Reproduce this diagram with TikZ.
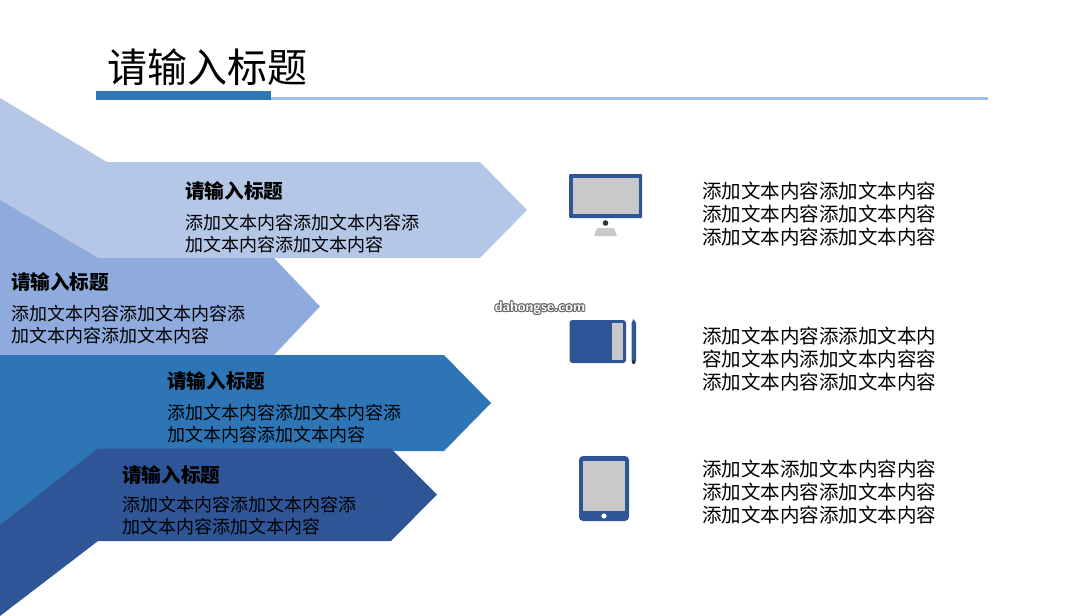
\documentclass[tikz,border=0pt]{standalone}
\usepackage{fontspec}
\setmainfont{Noto Sans CJK SC}
\newfontfamily\cjk{Noto Sans CJK SC}
\definecolor{cA}{HTML}{B4C7E7}
\definecolor{cB}{HTML}{8FAADC}
\definecolor{cC}{HTML}{2E75B6}
\definecolor{cD}{HTML}{2F5597}
\definecolor{cL}{HTML}{9DC3E6}
\definecolor{cG}{HTML}{C9C9C9}
\definecolor{cK}{HTML}{333333}
\tikzset{
  x=1pt,y=-1pt,
  head/.style={anchor=north west,inner sep=0pt,font=\fontsize{19.6pt}{23pt}\selectfont\bfseries,text=black},
  body/.style={anchor=north west,inner sep=0pt,align=left,font=\fontsize{18pt}{22pt}\selectfont,text=black},
  side/.style={anchor=north west,inner sep=0pt,align=left,font=\fontsize{19.5pt}{23.3pt}\selectfont,text=black},
  wmark/.style={inner sep=0pt,font=\sffamily\bfseries\fontsize{14pt}{15pt}\selectfont},
}
\begin{document}
\begin{tikzpicture}
\useasboundingbox (0,0) rectangle (1080,616);
\fill[white] (0,0) rectangle (1080,616);
% title rule
\fill[cL] (271,97) rectangle (988,99.5);
\fill[cC] (96,91) rectangle (271,100);
\node[anchor=west,inner sep=0pt,font=\fontsize{40pt}{44pt}\selectfont] (title) at (107,67.7) {请输入标题};
% chevrons
\fill[cA] (0,98) -- (107,162) -- (480,162) -- (527,210) -- (480,258) -- (0,258) -- cycle;
\fill[cB] (0,200) -- (98,258) -- (274,258) -- (320,306.5) -- (274,355) -- (0,355) -- cycle;
\fill[cC] (0,355) -- (444,355) -- (491,403) -- (444,451) -- (98,451) -- (0,530) -- cycle;
\fill[cD] (0,525) -- (98,448.5) -- (391,448.5) -- (437,494.5) -- (391,541) -- (98,541) -- (0,616) -- cycle;
% chevron text
\node[head] (h1) at (185,181) {请输入标题};
\node[body] (b1) at (185,214.5) {添加文本内容添加文本内容添\\加文本内容添加文本内容};
\node[head] (h2) at (11,272) {请输入标题};
\node[body] (b2) at (11,305.5) {添加文本内容添加文本内容添\\加文本内容添加文本内容};
\node[head] (h3) at (167,371) {请输入标题};
\node[body] (b3) at (167,404.5) {添加文本内容添加文本内容添\\加文本内容添加文本内容};
\node[head] (h4) at (122,465) {请输入标题};
\node[body] (b4) at (122,496.5) {添加文本内容添加文本内容添\\加文本内容添加文本内容};
% right text
\node[side] (s1) at (702,181.5) {添加文本内容添加文本内容\\添加文本内容添加文本内容\\添加文本内容添加文本内容};
\node[side] (s2) at (702,326.5) {添加文本内容添添加文本内\\容加文本内添加文本内容容\\添加文本内容添加文本内容};
\node[side] (s3) at (702,459.5) {添加文本添加文本内容内容\\添加文本内容添加文本内容\\添加文本内容添加文本内容};
% monitor
\fill[cD,rounded corners=1pt] (569,174) rectangle (642,218);
\fill[cG] (572.5,178) rectangle (638.5,214);
\fill[cK] (605.5,223) circle (2.8);
\fill[cG] (597,228) -- (614,228) -- (617,236) -- (594,236) -- cycle;
% graphics tablet and pen
\fill[cD,rounded corners=3pt] (569.5,320) rectangle (626,363);
\fill[cG] (612,323) rectangle (623,360);
\fill[cD] (631.5,323) -- (633.7,319) -- (636,323) -- (636,361) -- (631.5,361) -- cycle;
\fill[cK] (633.7,362) circle (2);
% tablet
\fill[cD,rounded corners=4pt] (579,456) rectangle (629,521);
\fill[cG] (583,461) rectangle (625,511);
\fill[white] (604,516) circle (2.6);
% watermark
\foreach \dx/\dy in {-1/0,1/0,0/-1,0/1,-.7/-.7,.7/-.7,-.7/.7,.7/.7}
  \node[wmark,text=black!60] at (540+\dx,308+\dy) {dahongse.com};
\node[wmark,text=white] (wm) at (540,308) {dahongse.com};
\end{tikzpicture}
\end{document}
